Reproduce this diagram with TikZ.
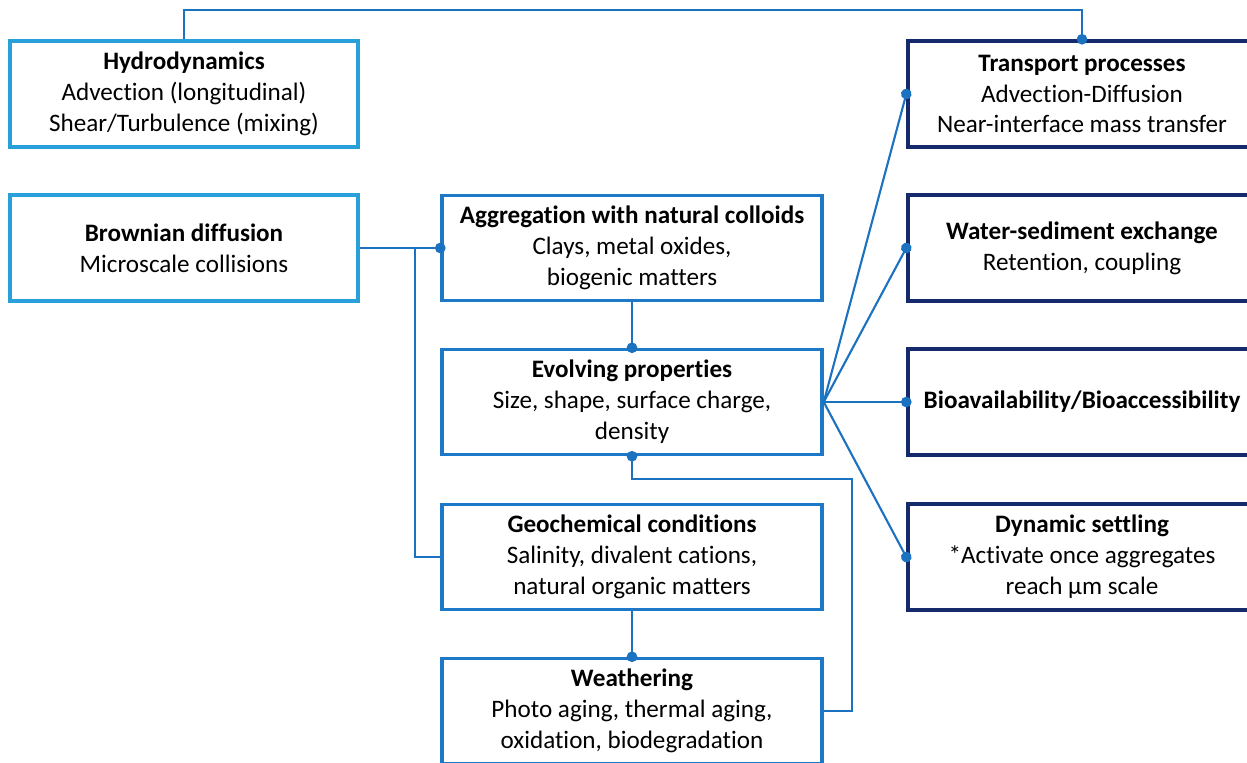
\documentclass[tikz,border=0pt]{standalone}
\usepackage{fontspec}
\setmainfont{Carlito}[Ligatures=NoCommon]
\usetikzlibrary{arrows.meta,calc}
\definecolor{skyblue}{HTML}{29A0DA}
\definecolor{midblue}{HTML}{1E78C8}
\definecolor{navyblue}{HTML}{15296B}
\definecolor{linkblue}{HTML}{1A72C0}
\tikzset{
    box/.style={draw, line width=2pt, fill=white, align=center, inner sep=0pt,
        font=\fontsize{14.3}{17.6}\selectfont},
    leftbox/.style={box, draw=skyblue, minimum width=6.96cm, minimum height=2.12cm},
    midbox/.style={box, draw=midblue, minimum width=7.6cm, minimum height=2.1cm},
    rightbox/.style={box, draw=navyblue, minimum width=6.96cm, minimum height=2.12cm},
    link/.style={draw=linkblue, line width=1.2pt},
    dotend/.style={link, -{Circle[length=6pt]}, shorten >=-3pt}
}
\begin{document}
\begin{tikzpicture}[x=0.02cm, y=-0.02cm]
        \useasboundingbox (0,0) rectangle (1247,762);
        \clip (0,0) rectangle (1247,762);
        % left column
        \node[leftbox] (hydro) at (184, 94) {\textbf{Hydrodynamics}\\Advection (longitudinal)\\Shear/Turbulence (mixing)};
        \node[leftbox] (brown) at (184, 248) {\textbf{Brownian diffusion}\\Microscale collisions};
        % middle column
        \node[midbox] (aggr) at (632, 248) {\textbf{Aggregation with natural colloids}\\Clays, metal oxides,\\biogenic matters};
        \node[midbox] (evolv) at (632, 402) {\textbf{Evolving properties}\\Size, shape, surface charge,\\density};
        \node[midbox] (geo) at (632, 557) {\textbf{Geochemical conditions}\\Salinity, divalent cations,\\natural organic matters};
        \node[midbox] (weath) at (632, 711) {\textbf{Weathering}\\Photo aging, thermal aging,\\oxidation, biodegradation};
        % right column
        \node[rightbox] (transp) at (1082, 94) {\textbf{Transport processes}\\Advection-Diffusion\\Near-interface mass transfer};
        \node[rightbox] (water) at (1082, 248) {\textbf{Water-sediment exchange}\\Retention, coupling};
        \node[rightbox] (bio) at (1082, 402) {\textbf{Bioavailability/Bioaccessibility}};
        \node[rightbox] (settle) at (1082, 557) {\textbf{Dynamic settling}\\*Activate once aggregates\\reach µm scale};
        % connectors
        \draw[dotend] (hydro.north) -- ++(0,-29) -| (transp.north);
        \draw[dotend] (brown.east) -- (aggr.west);
        \draw[link] (brown.east) ++(55,0) |- (geo.west);
        \draw[dotend] (aggr.south) -- (evolv.north);
        \draw[dotend] (geo.south) -- (weath.north);
        \draw[dotend] (weath.east) -- ++(28,0) |- ($(evolv.south)+(0,23)$) -- (evolv.south);
        \foreach \t in {transp, water, bio, settle}{
            \path[dotend] (evolv.east) -- (\t.west);
        }
    \end{tikzpicture}
\end{document}
